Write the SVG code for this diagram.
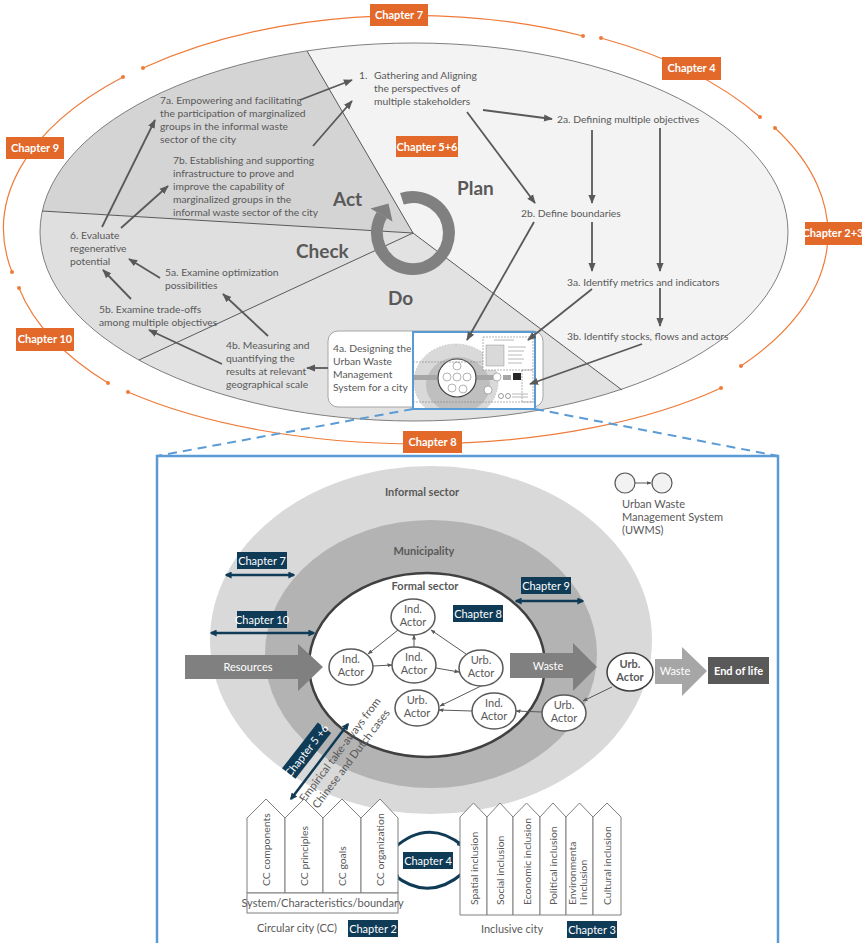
<svg xmlns="http://www.w3.org/2000/svg" width="862" height="943" viewBox="0 0 862 943">
<defs>
<style>
.t{font-family:Lato,"Liberation Sans",sans-serif;font-size:10.3px;fill:#595959}
.tb{font-family:Lato,"Liberation Sans",sans-serif;font-size:11px;fill:#595959}
.big{font-family:Lato,"Liberation Sans",sans-serif;font-size:19px;font-weight:bold;fill:#595959}
.ob{fill:#e2692a}
.ot{font-family:Lato,"Liberation Sans",sans-serif;font-size:11px;font-weight:bold;fill:#fff;text-anchor:middle}
.oarc{fill:none;stroke:#ef7b3a;stroke-width:1.2;marker-start:url(#dot);marker-end:url(#dot)}
.ar{stroke:#595959;stroke-width:1.8;fill:none;marker-end:url(#ah)}
.nb{fill:#0f3b57}
.nt{font-family:Lato,"Liberation Sans",sans-serif;font-size:11px;fill:#fff;text-anchor:middle}
.na{stroke:#0f3b57;stroke-width:2.5;fill:none;marker-start:url(#nh);marker-end:url(#nh)}
.act{fill:#fff;stroke:#595959;stroke-width:1.5}
.at{font-family:Lato,"Liberation Sans",sans-serif;font-size:11px;fill:#595959;text-anchor:middle}
.sa{stroke:#595959;stroke-width:1;fill:none;marker-end:url(#sh)}
.pil{fill:#fff;stroke:#7f7f7f;stroke-width:1}
.vt{font-family:Lato,"Liberation Sans",sans-serif;font-size:10.4px;fill:#595959}
.lbl{font-family:Lato,"Liberation Sans",sans-serif;font-size:11px;font-weight:bold;fill:#595959;text-anchor:middle}
</style>
<marker id="ah" viewBox="0 0 10 10" refX="9" refY="5" markerWidth="9" markerHeight="9" markerUnits="userSpaceOnUse" orient="auto"><path d="M0,1 L10,5 L0,9 z" fill="#595959"/></marker>
<marker id="sh" viewBox="0 0 10 10" refX="9" refY="5" markerWidth="5" markerHeight="5" markerUnits="userSpaceOnUse" orient="auto"><path d="M0,1 L10,5 L0,9 z" fill="#595959"/></marker>
<marker id="nh" viewBox="0 0 10 10" refX="8" refY="5" markerWidth="7" markerHeight="7" markerUnits="userSpaceOnUse" orient="auto-start-reverse"><path d="M0,0 L10,5 L0,10 z" fill="#0f3b57"/></marker>
<marker id="dot" viewBox="0 0 10 10" refX="5" refY="5" markerWidth="4" markerHeight="4" markerUnits="userSpaceOnUse"><circle cx="5" cy="5" r="5" fill="#ef7b3a"/></marker>
<clipPath id="ec"><ellipse cx="414" cy="232" rx="374" ry="189"/></clipPath>
<clipPath id="tc"><rect x="413" y="332" width="122" height="77"/></clipPath>
</defs>

<!-- outer chapter arcs -->
<g id="chapter-arcs">
<path class="oarc" d="M143,68 A406 214 0 0 1 583,36"/>
<path class="oarc" d="M601,38 A406 214 0 0 1 760,117"/>
<path class="oarc" d="M775,128 A406 214 0 0 1 741,366"/>
<path class="oarc" d="M721,388 A406 170 0 0 1 128,392"/>
<path class="oarc" d="M108,383 A406 214 0 0 1 19,288"/>
<path class="oarc" d="M12,272 A406 214 0 0 1 123,77"/>
</g>

<!-- PDCA ellipse -->
<g id="pdca">
<ellipse cx="414" cy="232" rx="374" ry="189" fill="#f3f3f3"/>
<g clip-path="url(#ec)">
<polygon points="413,233 277,0 0,0 0,208.5" fill="#d4d4d4"/>
<polygon points="413,233 0,208.5 0,424" fill="#dfdfdf"/>
<polygon points="413,233 0,424 0,450 702,450" fill="#e2e2e2"/>
</g>
<ellipse cx="414" cy="232" rx="374" ry="189" fill="none" stroke="#7f7f7f" stroke-width="1"/>
<g stroke="#595959" stroke-width="1">
<line x1="413" y1="233" x2="307" y2="51"/>
<line x1="413" y1="233" x2="42" y2="211"/>
<line x1="413" y1="233" x2="139" y2="360"/>
<line x1="413" y1="233" x2="622" y2="390"/>
</g>
<path d="M401.9,198.8 A36 36 0 1 1 381.8,215" fill="none" stroke="#808080" stroke-width="12"/>
<polygon points="388.5,203.5 370.5,208.5 392.5,221.5" fill="#808080"/>
<text class="big" x="333" y="206">Act</text>
<text class="big" x="457" y="195">Plan</text>
<text class="big" x="296" y="258">Check</text>
<text class="big" x="388" y="305">Do</text>
</g>

<g id="step1"><text class="t" x="359" y="79">1.</text><text class="t" x="374" y="79">Gathering and Aligning</text><text class="t" x="374" y="92">the perspectives of</text><text class="t" x="374" y="105">multiple stakeholders</text></g>
<g id="step7a"><text class="t" x="160" y="104">7a. Empowering and facilitating</text><text class="t" x="160" y="117">the participation of marginalized</text><text class="t" x="160" y="130">groups in the informal waste</text><text class="t" x="160" y="143">sector of the city</text></g>
<g id="step7b"><text class="t" x="173" y="164">7b. Establishing and supporting</text><text class="t" x="173" y="177">infrastructure to prove and</text><text class="t" x="173" y="190">improve the capability of</text><text class="t" x="173" y="203">marginalized groups in the</text><text class="t" x="173" y="216">informal waste sector of the city</text></g>
<g id="step6"><text class="t" x="70" y="239">6. Evaluate</text><text class="t" x="70" y="252">regenerative</text><text class="t" x="70" y="265">potential</text></g>
<g id="step5a"><text class="t" x="165" y="276">5a. Examine optimization</text><text class="t" x="165" y="289">possibilities</text></g>
<g id="step5b"><text class="t" x="99" y="313">5b. Examine trade-offs</text><text class="t" x="99" y="326">among multiple objectives</text></g>
<g id="step4b"><text class="t" x="226" y="349">4b. Measuring and</text><text class="t" x="226" y="362">quantifying the</text><text class="t" x="226" y="375">results at relevant</text><text class="t" x="226" y="388">geographical scale</text></g>
<g id="step2a"><text class="t" x="557" y="123">2a. Defining multiple objectives</text></g>
<g id="step2b"><text class="t" x="521" y="217">2b. Define boundaries</text></g>
<g id="step3a"><text class="t" x="567" y="286">3a. Identify metrics and indicators</text></g>
<g id="step3b"><text class="t" x="567" y="340">3b. Identify stocks, flows and actors</text></g>

<g id="step4a">
<rect x="328" y="331" width="215" height="76" rx="10" fill="#fff" stroke="#a6a6a6" stroke-width="1"/>
<text class="t" x="333" y="352">4a. Designing the</text><text class="t" x="333" y="365">Urban Waste</text><text class="t" x="333" y="378">Management</text><text class="t" x="333" y="391">System for a city</text>
</g>

<g id="thumbnail">
<g clip-path="url(#tc)">
<rect x="413" y="332" width="122" height="77" fill="#fff"/>
<ellipse cx="456" cy="382" rx="42" ry="38" fill="#d9d9d9" stroke="#a6a6a6" stroke-dasharray="1.5 1.5" stroke-width="0.6"/>
<ellipse cx="458" cy="385" rx="32" ry="28" fill="#bfbfbf"/>
<circle cx="457" cy="378" r="19" fill="#fff" stroke="#404040" stroke-width="1.2"/>
<rect x="413" y="375" width="24" height="5" fill="#a6a6a6"/>
<rect x="477" y="375" width="16" height="5" fill="#a6a6a6"/>
<g fill="#fff" stroke="#7f7f7f" stroke-width="0.6">
<circle cx="457" cy="366" r="4"/><circle cx="447" cy="377" r="4"/><circle cx="457" cy="377" r="4"/><circle cx="467" cy="377" r="4"/><circle cx="452" cy="388" r="4"/><circle cx="463" cy="389" r="4"/><circle cx="488" cy="390" r="4"/><circle cx="497" cy="377" r="4"/>
</g>
<rect x="503" y="375" width="8" height="5" fill="#a6a6a6"/>
<rect x="513" y="373" width="8" height="7" fill="#262626"/>
<line x1="413" y1="362" x2="483" y2="362" stroke="#7f7f7f" stroke-width="0.6" stroke-dasharray="2 1"/>
<line x1="413" y1="402" x2="535" y2="402" stroke="#7f7f7f" stroke-width="0.6" stroke-dasharray="2 1"/>
<rect x="483" y="337" width="50" height="33" fill="#fff" stroke="#7f7f7f" stroke-width="0.6" stroke-dasharray="2 1"/>
<rect x="486" y="345" width="18" height="21" fill="#d9d9d9" stroke="#7f7f7f" stroke-width="0.4"/>
<g stroke="#a6a6a6" stroke-width="0.8"><line x1="494" y1="340" x2="514" y2="340"/><line x1="508" y1="347" x2="526" y2="347"/><line x1="508" y1="351" x2="524" y2="351"/><line x1="508" y1="355" x2="522" y2="355"/><line x1="508" y1="359" x2="524" y2="359"/><line x1="508" y1="363" x2="522" y2="363"/></g>
<rect x="522" y="370" width="11" height="32" fill="none" stroke="#7f7f7f" stroke-width="0.6" stroke-dasharray="2 1"/>
<circle cx="501" cy="396" r="2.5" fill="#fff" stroke="#595959" stroke-width="0.6"/><circle cx="508" cy="396" r="2.5" fill="#fff" stroke="#595959" stroke-width="0.6"/>
<g stroke="#a6a6a6" stroke-width="0.8"><line x1="512" y1="394" x2="528" y2="394"/><line x1="512" y1="397" x2="528" y2="397"/></g>
</g>
<rect x="413" y="332" width="122" height="77" fill="none" stroke="#5b9bd5" stroke-width="2"/>
</g>

<g id="top-connectors">
<line class="ar" x1="300" y1="100" x2="352" y2="80"/>
<line class="ar" x1="313" y1="146" x2="352" y2="101"/>
<line class="ar" x1="102" y1="227" x2="155" y2="120"/>
<line class="ar" x1="121" y1="228" x2="168" y2="186"/>
<line class="ar" x1="160" y1="278" x2="129" y2="259"/>
<line class="ar" x1="131" y1="299" x2="103" y2="270"/>
<line class="ar" x1="268" y1="336" x2="223" y2="294"/>
<line class="ar" x1="222" y1="364" x2="149" y2="330"/>
<line class="ar" x1="328" y1="368" x2="307" y2="368"/>
<line class="ar" x1="483" y1="110" x2="552" y2="119"/>
<line class="ar" x1="467" y1="112" x2="535" y2="203"/>
<line class="ar" x1="592" y1="130" x2="592" y2="203"/>
<line class="ar" x1="660" y1="128" x2="660" y2="271"/>
<line class="ar" x1="592" y1="222" x2="592" y2="271"/>
<line class="ar" x1="660" y1="288" x2="660" y2="326"/>
<line class="ar" x1="534" y1="222" x2="467" y2="340"/>
<line class="ar" x1="592" y1="289" x2="528" y2="340"/>
<line class="ar" x1="642" y1="344" x2="530" y2="384"/>
</g>

<g id="orange-chapters">
<g id="oc7"><rect class="ob" x="370" y="4" width="58" height="22"/><text class="ot" x="399" y="19">Chapter 7</text></g>
<g id="oc4"><rect class="ob" x="662" y="57" width="59" height="23"/><text class="ot" x="691.5" y="72">Chapter 4</text></g>
<g id="oc9"><rect class="ob" x="6" y="137" width="58" height="22"/><text class="ot" x="35" y="152">Chapter 9</text></g>
<g id="oc23"><rect class="ob" x="805" y="222" width="60" height="23"/><text class="ot" x="833" y="237" font-size="10.5">Chapter 2+3</text></g>
<g id="oc10"><rect class="ob" x="16" y="328" width="58" height="23"/><text class="ot" x="45" y="343">Chapter 10</text></g>
<g id="oc8"><rect class="ob" x="403" y="431" width="59" height="22"/><text class="ot" x="432.5" y="446">Chapter 8</text></g>
<g id="oc56"><rect class="ob" x="396" y="136" width="62" height="21"/><text class="ot" x="427" y="151">Chapter 5+6</text></g>
</g>

<g id="zoom-lines" stroke="#5b9bd5" stroke-width="2" stroke-dasharray="9 6" fill="none">
<line x1="413" y1="409" x2="157" y2="456"/>
<line x1="535" y1="409" x2="778" y2="456"/>
</g>

<!-- detail panel -->
<g id="detail-frame"><rect x="157" y="456" width="621" height="500" fill="#fff" stroke="#5b9bd5" stroke-width="2.5"/></g>

<g id="informal-sector"><ellipse cx="431" cy="640" rx="221" ry="174" fill="#d9d9d9"/><text class="lbl" x="422" y="496">Informal sector</text></g>
<g id="municipality"><ellipse cx="431" cy="654" rx="166" ry="134" fill="#b3b3b3"/><text class="lbl" x="424" y="555">Municipality</text></g>
<g id="formal-sector"><ellipse cx="427" cy="665" rx="118" ry="92" fill="#fff" stroke="#404040" stroke-width="2.5"/><text class="lbl" x="425" y="590" fill="#404040">Formal sector</text></g>

<g id="resources-arrow"><polygon points="185,655 298,655 298,644 323,667 298,691 298,679 185,679" fill="#808080"/><text class="nt" x="248" y="671">Resources</text></g>
<g id="waste-arrow-1"><polygon points="510,653 573,653 573,643 597,667 573,691 573,678 510,678" fill="#808080"/><text class="nt" x="548" y="670">Waste</text></g>
<g id="waste-arrow-2"><polygon points="655,659 682,659 682,647 707,671 682,696 682,684 655,684" fill="#a6a6a6"/><text class="nt" x="675" y="675">Waste</text></g>
<g id="end-of-life"><rect x="708" y="657" width="61" height="27" fill="#595959"/><text class="nt" x="738.5" y="675" font-weight="bold">End of life</text></g>

<g id="actor-links">
<line class="sa" x1="398" y1="630" x2="368" y2="654"/>
<line class="sa" x1="373" y1="666" x2="392" y2="665"/>
<line class="sa" x1="414" y1="647" x2="414" y2="635"/>
<line class="sa" x1="436" y1="668" x2="459" y2="672"/>
<line class="sa" x1="466" y1="654" x2="431" y2="630"/>
<line class="sa" x1="481" y1="686" x2="440" y2="706"/>
<line class="sa" x1="472" y1="711" x2="439" y2="710"/>
<line class="sa" x1="542" y1="712" x2="516" y2="711"/>
<line class="sa" x1="612" y1="687" x2="583" y2="701"/>
</g>

<g id="actor-ind-top"><ellipse class="act" cx="413" cy="617" rx="22" ry="18"/><text class="at" x="413" y="613">Ind.</text><text class="at" x="413" y="626">Actor</text></g>
<g id="actor-ind-left"><ellipse class="act" cx="351" cy="667" rx="22" ry="18"/><text class="at" x="351" y="663">Ind.</text><text class="at" x="351" y="676">Actor</text></g>
<g id="actor-ind-mid"><ellipse class="act" cx="414" cy="665" rx="22" ry="18"/><text class="at" x="414" y="661">Ind.</text><text class="at" x="414" y="674">Actor</text></g>
<g id="actor-urb-right"><ellipse class="act" cx="481" cy="668" rx="22" ry="18"/><text class="at" x="481" y="664">Urb.</text><text class="at" x="481" y="677">Actor</text></g>
<g id="actor-urb-bl"><ellipse class="act" cx="417" cy="708" rx="22" ry="18"/><text class="at" x="417" y="704">Urb.</text><text class="at" x="417" y="717">Actor</text></g>
<g id="actor-ind-br"><ellipse class="act" cx="494" cy="711" rx="22" ry="18"/><text class="at" x="494" y="707">Ind.</text><text class="at" x="494" y="720">Actor</text></g>
<g id="actor-urb-out"><ellipse class="act" cx="564" cy="713" rx="22" ry="18"/><text class="at" x="564" y="709">Urb.</text><text class="at" x="564" y="722">Actor</text></g>
<g id="actor-urb-outer"><ellipse cx="630" cy="672" rx="23" ry="19" fill="#fff" stroke="#404040" stroke-width="1.5"/><text class="at" x="630" y="668" font-weight="bold" fill="#000">Urb.</text><text class="at" x="630" y="681" font-weight="bold" fill="#000">Actor</text></g>

<g id="legend">
<circle cx="625" cy="483" r="10" fill="#f2f2f2" stroke="#595959" stroke-width="1.2"/>
<circle cx="662" cy="483" r="10" fill="#f2f2f2" stroke="#595959" stroke-width="1.2"/>
<line class="sa" x1="635" y1="483" x2="651" y2="483"/>
<text class="tb" x="622" y="508" fill="#757575">Urban Waste</text>
<text class="tb" x="622" y="521" fill="#757575">Management System</text>
<text class="tb" x="622" y="534" fill="#757575">(UWMS)</text>
</g>

<g id="navy-chapters">
<g id="nc7"><rect class="nb" x="237" y="552" width="50" height="17"/><text class="nt" x="262" y="564.5">Chapter 7</text><line class="na" x1="226" y1="575" x2="294" y2="575"/></g>
<g id="nc10"><rect class="nb" x="237" y="611" width="50" height="17"/><text class="nt" x="262" y="623.5">Chapter 10</text><line class="na" x1="211" y1="633" x2="314" y2="633"/></g>
<g id="nc9"><rect class="nb" x="521" y="577" width="50" height="17"/><text class="nt" x="546" y="589.5">Chapter 9</text><line class="na" x1="516" y1="601" x2="583" y2="601"/></g>
<g id="nc8"><rect class="nb" x="453" y="605" width="50" height="17"/><text class="nt" x="478" y="617.5">Chapter 8</text></g>
<g id="nc56"><line class="na" x1="291" y1="799" x2="348" y2="724" stroke-width="3"/><g transform="translate(307,751) rotate(-52)"><rect class="nb" x="-29" y="-9" width="58" height="17"/><text class="nt" x="0" y="3.5" font-size="10.3">Chapter 5 +6</text></g></g>
<g id="nc4"><rect class="nb" x="403" y="852" width="50" height="17"/><text class="nt" x="428" y="864.5">Chapter 4</text>
<path d="M393,849 Q428,817 463,846" fill="none" stroke="#0f3b57" stroke-width="3" marker-end="url(#nh)"/>
<path d="M463,873 Q428,903 393,874" fill="none" stroke="#0f3b57" stroke-width="3" marker-end="url(#nh)"/></g>
<g id="nc2"><rect class="nb" x="348" y="920" width="50" height="17"/><text class="nt" x="373" y="932.5">Chapter 2</text></g>
<g id="nc3"><rect class="nb" x="567" y="921" width="50" height="17"/><text class="nt" x="592" y="933.5">Chapter 3</text></g>
</g>

<g id="empirical-label">
<text class="tb" fill="#7f7f7f" text-anchor="middle" transform="translate(343,752) rotate(-53)">Empirical take-aways from</text>
<text class="tb" fill="#7f7f7f" text-anchor="middle" transform="translate(354,761) rotate(-53)">Chinese and Dutch cases</text>
</g>

<g id="circular-city">
<path class="pil" d="M247,893 L247,818 L266,799 L285,818 L285,893 Z"/>
<path class="pil" d="M285,893 L285,818 L304,799 L323,818 L323,893 Z"/>
<path class="pil" d="M323,893 L323,818 L342,799 L361,818 L361,893 Z"/>
<path class="pil" d="M361,893 L361,818 L380,799 L398,818 L398,893 Z"/>
<rect class="pil" x="247" y="893" width="151" height="20"/>
<text class="vt" transform="translate(270,886) rotate(-90)">CC components</text>
<text class="vt" transform="translate(308,886) rotate(-90)">CC principles</text>
<text class="vt" transform="translate(346,886) rotate(-90)">CC goals</text>
<text class="vt" transform="translate(384,886) rotate(-90)">CC organization</text>
<text class="tb" x="322.5" y="907" text-anchor="middle" font-size="9.7">System/Characteristics/boundary</text>
<text class="tb" x="297" y="932" text-anchor="middle">Circular city (CC)</text>
</g>

<g id="inclusive-city">
<path class="pil" d="M460,915 L460,817 L473.5,803 L487,817 L487,915 Z"/>
<path class="pil" d="M487,915 L487,817 L500,803 L513,817 L513,915 Z"/>
<path class="pil" d="M513,915 L513,817 L526.5,803 L540,817 L540,915 Z"/>
<path class="pil" d="M540,915 L540,817 L553,803 L566,817 L566,915 Z"/>
<path class="pil" d="M566,915 L566,817 L579.5,803 L593,817 L593,915 Z"/>
<path class="pil" d="M593,915 L593,817 L607,803 L621,817 L621,915 Z"/>
<text class="vt" transform="translate(477.5,905) rotate(-90)">Spatial inclusion</text>
<text class="vt" transform="translate(504,905) rotate(-90)">Social inclusion</text>
<text class="vt" transform="translate(530.5,905) rotate(-90)">Economic inclusion</text>
<text class="vt" transform="translate(557,905) rotate(-90)">Political inclusion</text>
<text class="vt" font-size="10" transform="translate(575.5,905) rotate(-90)">Environmenta</text>
<text class="vt" font-size="10" transform="translate(587,905) rotate(-90)">l inclusion</text>
<text class="vt" transform="translate(611,905) rotate(-90)">Cultural inclusion</text>
<text class="tb" x="512" y="933" text-anchor="middle">Inclusive city</text>
</g>
</svg>
